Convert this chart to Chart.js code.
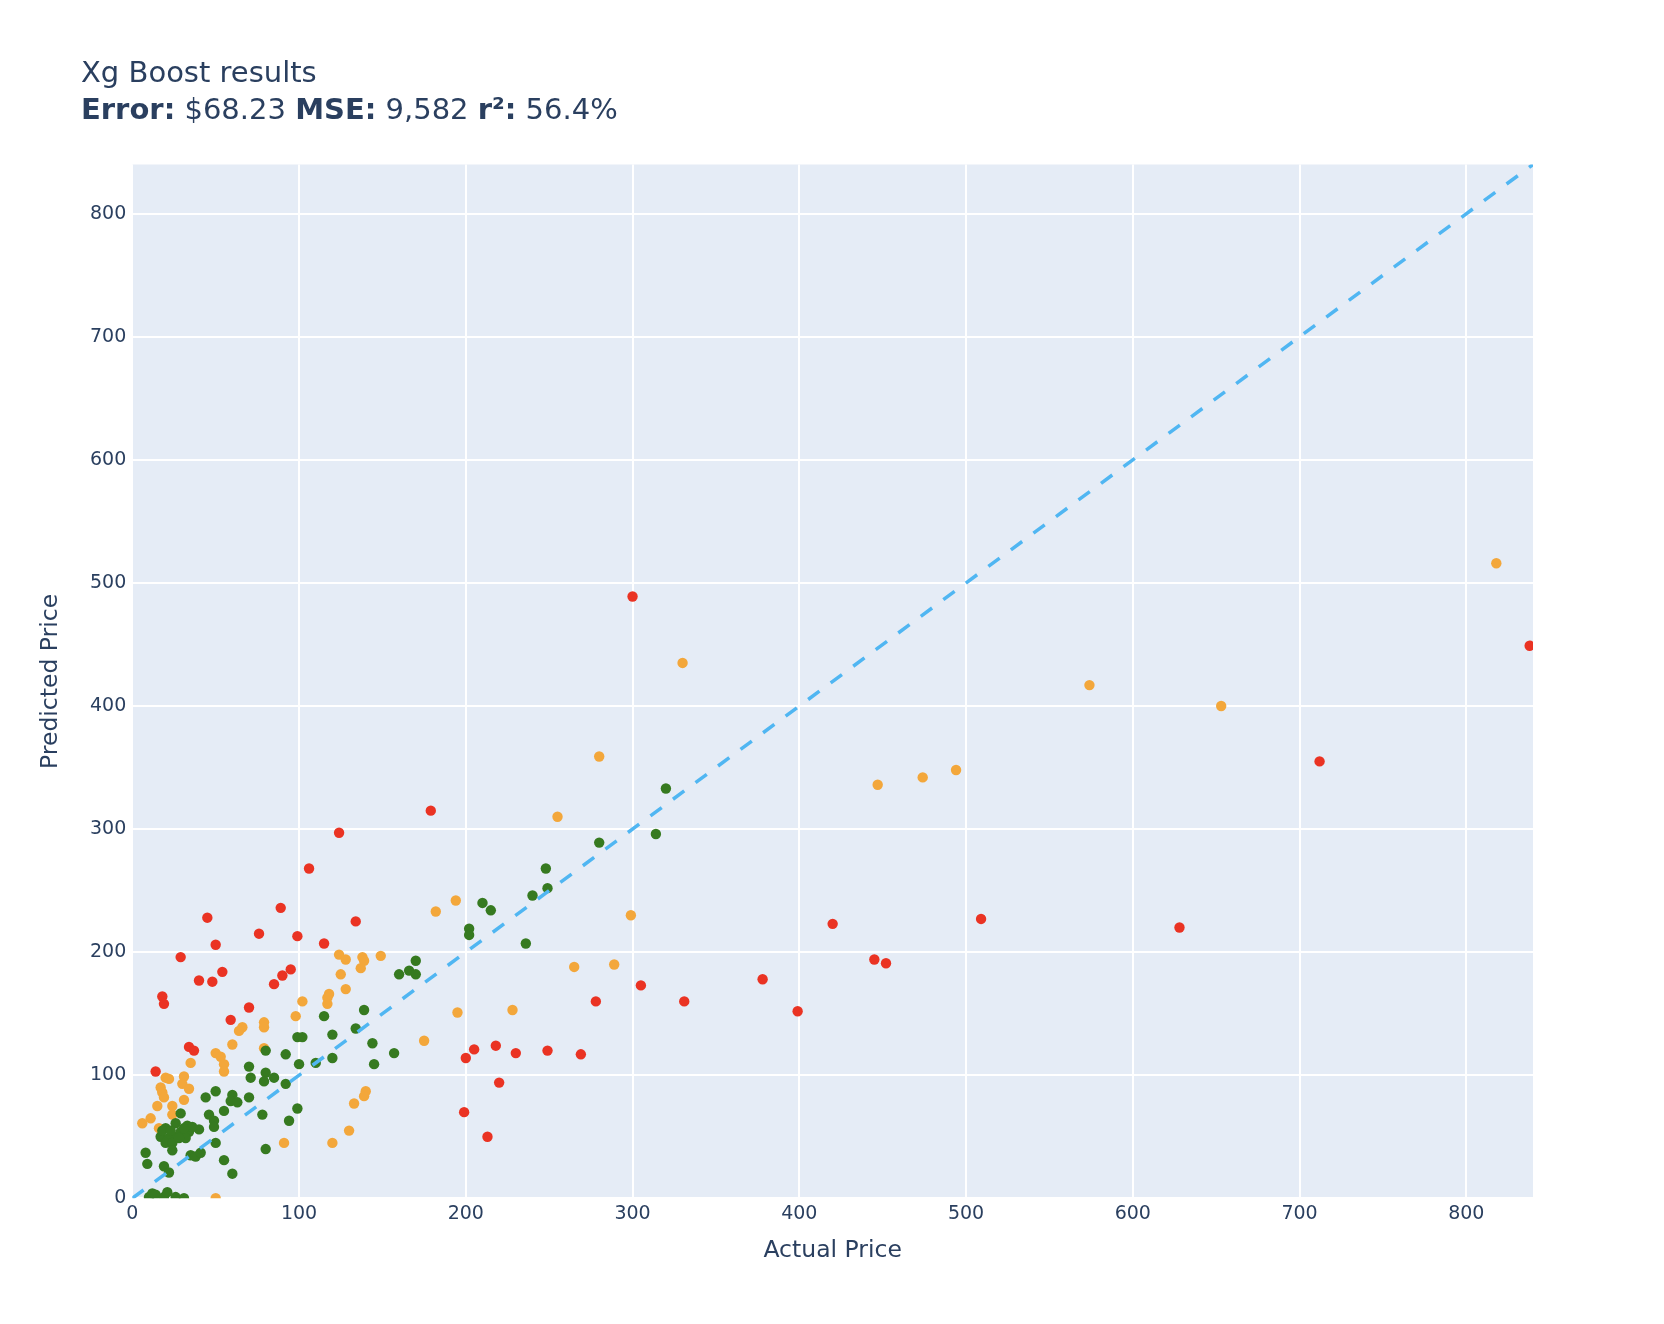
<!DOCTYPE html>
<html>
<head>
<meta charset="utf-8">
<script src="https://cdn.jsdelivr.net/npm/chart.js@4.4.1/dist/chart.umd.min.js"></script>
<style>
  html, body { margin: 0; padding: 0; background: #fff; }
  #wrap { position: relative; width: 1664px; height: 1324px; }
  #title { position: absolute; left: 81px; top: 54px; color: #2a3f5f; font-family: "DejaVu Sans", sans-serif; font-size: 29px; line-height: 37px; }
  canvas { position: absolute; left: 0; top: 0; }
</style>
</head>
<body>
<div id="wrap">
  <canvas id="myChart" width="1664" height="1324"></canvas>
  <div id="title">Xg Boost results<br><b>Error:</b> $68.23 <b>MSE:</b> 9,582 <b>r²:</b> 56.4%</div>
</div>
<script>
// [actual, predicted]
const redPoints = [
  [300, 489], [838, 449], [712, 355], [179, 315], [124, 297], [106, 268], [89, 236], [45, 228],
  [134, 225], [420, 223], [509, 227], [628, 220], [76, 215], [99, 213], [29, 196], [50, 206],
  [115, 207], [445, 194], [452, 191], [95, 186], [90, 181], [54, 184], [40, 177], [48, 176],
  [85, 174], [378, 178], [305, 173], [70, 155], [278, 160], [331, 160], [399, 152], [18, 164],
  [19, 158], [59, 145], [34, 123], [37, 120], [14, 103], [205, 121], [218, 124], [230, 118],
  [249, 120], [269, 117], [200, 114], [220, 94], [199, 70], [213, 50]
];
const orangePoints = [
  [818, 516], [574, 417], [653, 400], [494, 348], [474, 342], [447, 336], [330, 435], [280, 359],
  [255, 310], [299, 230], [289, 190], [265, 188], [228, 153], [195, 151], [175, 128], [182, 233],
  [194, 242], [124, 198], [128, 194], [138, 196], [139, 193], [149, 197], [137, 187], [125, 182],
  [128, 170], [118, 166], [117, 163], [117, 158], [102, 160], [98, 148], [140, 87], [139, 83],
  [133, 77], [130, 55], [120, 45], [91, 45], [50, 0], [79, 143], [79, 139], [66, 139],
  [64, 136], [60, 125], [79, 122], [50, 118], [53, 115], [55, 109], [55, 103], [35, 110],
  [31, 99], [30, 93], [34, 89], [31, 80], [20, 98], [22, 97], [17, 90], [18, 86],
  [19, 82], [24, 75], [24, 68], [15, 75], [11, 65], [6, 61], [16, 57]
];
const greenPoints = [
  [320, 333], [280, 289], [314, 296], [248, 268], [249, 252], [240, 246], [236, 207], [210, 240],
  [215, 234], [202, 219], [202, 214], [160, 182], [166, 185], [170, 182], [170, 193], [139, 153],
  [115, 148], [120, 133], [134, 138], [144, 126], [157, 118], [145, 109], [120, 114], [110, 110],
  [99, 131], [102, 131], [100, 109], [99, 73], [80, 120], [92, 117], [92, 93], [70, 107],
  [71, 98], [80, 102], [85, 98], [79, 95], [44, 82], [50, 87], [60, 84], [59, 79],
  [63, 78], [70, 82], [55, 71], [46, 68], [49, 63], [49, 58], [29, 69], [78, 68],
  [94, 63], [80, 40], [55, 31], [60, 20], [50, 45], [40, 56], [17, 50], [20, 57],
  [22, 49], [26, 61], [26, 50], [29, 54], [33, 59], [34, 54], [32, 49], [36, 58],
  [20, 45], [24, 45], [28, 49], [18, 55], [23, 55], [31, 57], [24, 39], [8, 37],
  [9, 28], [19, 26], [22, 21], [35, 35], [38, 34], [41, 37], [10, 1], [12, 4],
  [14, 3], [19, 1], [21, 5], [26, 1], [31, 0]
];
const diagonalX = [0, 840];
const diagonalY = [0, 840];
const axisMaxX = 840;
const axisMaxY = 840;
const tickStep = 100;

const toXY = (pts) => pts.map((p) => ({ x: p[0], y: p[1] }));

// plot background like plotly
const plotBg = {
  id: 'plotBg',
  beforeDraw(chart) {
    const { ctx, chartArea: a } = chart;
    ctx.save();
    ctx.fillStyle = '#ffffff';
    ctx.fillRect(0, 0, chart.width, chart.height);
    ctx.fillStyle = '#E5ECF6';
    ctx.fillRect(a.left, a.top, a.right - a.left, a.bottom - a.top);
    ctx.restore();
  },
};

const textColor = '#2a3f5f';
const font = 'DejaVu Sans';

const ctx = document.getElementById('myChart').getContext('2d');
const myChart = new Chart(ctx, {
  type: 'scatter',
  data: {
    datasets: [
      {
        type: 'line',
        data: diagonalX.map((x, i) => ({ x: x, y: diagonalY[i] })),
        borderColor: 'rgb(80, 182, 242)',
        borderWidth: 3.5,
        borderDash: [14, 14],
        pointRadius: 0,
        fill: false,
      },
      {
        data: toXY(greenPoints),
        backgroundColor: 'rgb(54, 122, 32)',
        pointRadius: 5.2,
        borderWidth: 0,
      },
      {
        data: toXY(orangePoints),
        backgroundColor: 'rgb(243, 167, 59)',
        pointRadius: 5.2,
        borderWidth: 0,
      },
      {
        data: toXY(redPoints),
        backgroundColor: 'rgb(234, 51, 35)',
        pointRadius: 5.2,
        borderWidth: 0,
      },
    ],
  },
  options: {
    responsive: false,
    animation: false,
    devicePixelRatio: 1,
    layout: { padding: { left: 0, top: 164.5, right: 131, bottom: 0 } },
    plugins: {
      legend: { display: false },
      tooltip: { enabled: false },
    },
    scales: {
      x: {
        type: 'linear',
        min: 0,
        max: axisMaxX,
        border: { display: false },
        grid: { color: '#ffffff', lineWidth: 2, drawTicks: false },
        ticks: {
          stepSize: tickStep,
          includeBounds: false,
          color: textColor,
          padding: 4,
          font: { family: font, size: 19 },
        },
        title: {
          display: true,
          text: 'Actual Price',
          color: textColor,
          font: { family: font, size: 23.5 },
          padding: { top: 0, bottom: 59 },
        },
        afterFit(s) {
          s.height = 125.7;
        },
      },
      y: {
        type: 'linear',
        min: 0,
        max: axisMaxY,
        border: { display: false },
        grid: { color: '#ffffff', lineWidth: 2, drawTicks: false },
        ticks: {
          stepSize: tickStep,
          includeBounds: false,
          color: textColor,
          padding: 6,
          font: { family: font, size: 19 },
        },
        title: {
          display: true,
          text: 'Predicted Price',
          color: textColor,
          font: { family: font, size: 23.5 },
          padding: { top: 37, bottom: 0 },
        },
        afterFit(s) {
          s.width = 132.3;
        },
      },
    },
  },
  plugins: [plotBg],
});
</script>
</body>
</html>
